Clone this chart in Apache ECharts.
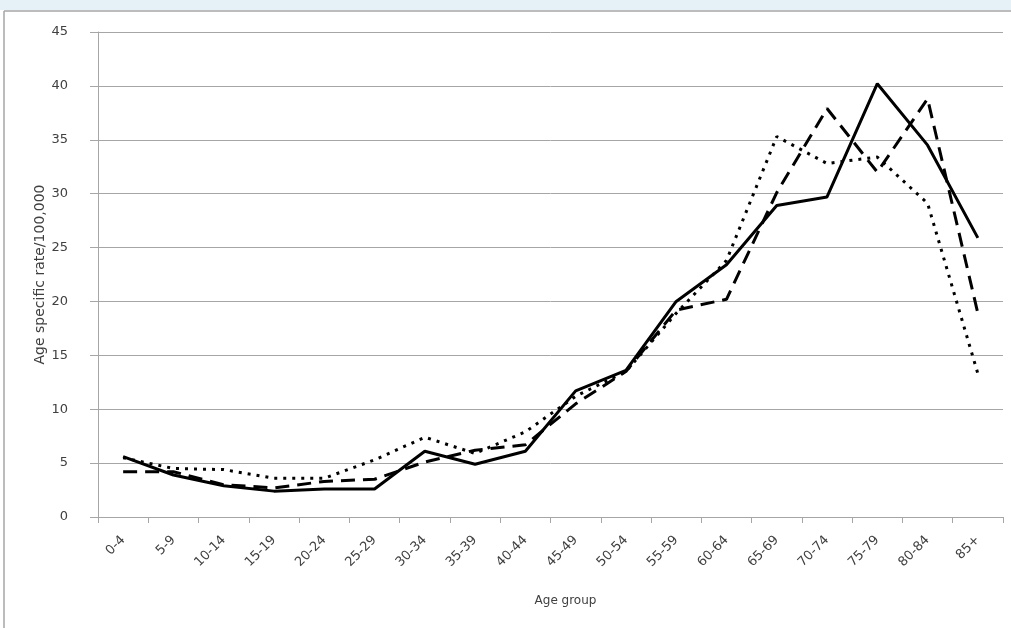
<!DOCTYPE html>
<html>
<head>
<meta charset="utf-8">
<script src="https://cdn.jsdelivr.net/npm/echarts@6/dist/echarts.min.js"></script>
<style>
html,body{margin:0;padding:0;background:#fff;}
#c{width:1011px;height:628px;}
</style>
</head>
<body>
<div id="c"></div>
<script>
const categories = ['0-4','5-9','10-14','15-19','20-24','25-29','30-34','35-39','40-44','45-49','50-54','55-59','60-64','65-69','70-74','75-79','80-84','85+'];
const solidSeries  = [5.6, 3.9, 2.9, 2.4, 2.6, 2.6, 6.1, 4.9, 6.1, 11.7, 13.6, 20.0, 23.4, 28.9, 29.7, 40.2, 34.5, 25.9];
const dashedSeries = [4.2, 4.2, 3.0, 2.7, 3.3, 3.5, 5.1, 6.2, 6.7, 10.5, 13.5, 19.2, 20.2, 30.1, 37.9, 32.0, 38.8, 18.9];
const dottedSeries = [5.5, 4.5, 4.4, 3.6, 3.6, 5.3, 7.4, 5.9, 7.9, 11.2, 13.5, 18.9, 23.8, 35.3, 32.8, 33.4, 29.1, 13.3];
const yTicks = {min: 0, max: 45, interval: 5};

const chart = echarts.init(document.getElementById('c'), null, {renderer: 'canvas'});
const font = '"DejaVu Sans", sans-serif';
const gridColor = '#a6a6a6';
chart.setOption({
  animation: false,
  backgroundColor: '#fff',
  graphic: [
    {type: 'rect', left: 0, top: 0, shape: {width: 1011, height: 10}, style: {fill: '#e5f1f6'}, silent: true},
    {type: 'line', shape: {x1: 4, y1: 11, x2: 1011, y2: 11}, style: {stroke: '#a6a6a6', lineWidth: 1.5}, silent: true},
    {type: 'line', shape: {x1: 4, y1: 11, x2: 4, y2: 628}, style: {stroke: '#a6a6a6', lineWidth: 1.5}, silent: true}
  ],
  grid: {left: 98, right: 8, top: 32, bottom: 111, containLabel: false},
  xAxis: {
    type: 'category',
    data: categories,
    boundaryGap: true,
    name: 'Age group',
    nameLocation: 'middle',
    nameGap: 78,
    nameTextStyle: {fontFamily: font, fontSize: 12, color: '#404040', padding: [0, 0, 0, 30]},
    axisLine: {lineStyle: {color: gridColor, width: 1}},
    axisTick: {show: true, length: 6, lineStyle: {color: gridColor}},
    axisLabel: {rotate: 45, fontFamily: font, fontSize: 13, color: '#404040', margin: 21, interval: 0}
  },
  yAxis: {
    type: 'value',
    min: yTicks.min, max: yTicks.max, interval: yTicks.interval,
    name: 'Age specific rate/100,000',
    nameLocation: 'middle',
    nameGap: 51,
    nameMoveOverlap: false,
    nameTextStyle: {fontFamily: font, fontSize: 14, color: '#404040'},
    axisLine: {show: true, lineStyle: {color: gridColor, width: 1}},
    axisTick: {show: true, length: 8, lineStyle: {color: gridColor}},
    splitLine: {show: true, lineStyle: {color: gridColor, width: 1}},
    axisLabel: {fontFamily: font, fontSize: 13, color: '#404040', margin: 30}
  },
  series: [
    {type: 'line', data: dottedSeries, symbol: 'none', z: 2,
     lineStyle: {color: '#000', width: 3, type: [3, 6]}},
    {type: 'line', data: dashedSeries, symbol: 'none', z: 3,
     lineStyle: {color: '#000', width: 3, type: [14, 8]}},
    {type: 'line', data: solidSeries, symbol: 'none', z: 4,
     lineStyle: {color: '#000', width: 3, type: 'solid'}}
  ]
});
</script>
</body>
</html>
